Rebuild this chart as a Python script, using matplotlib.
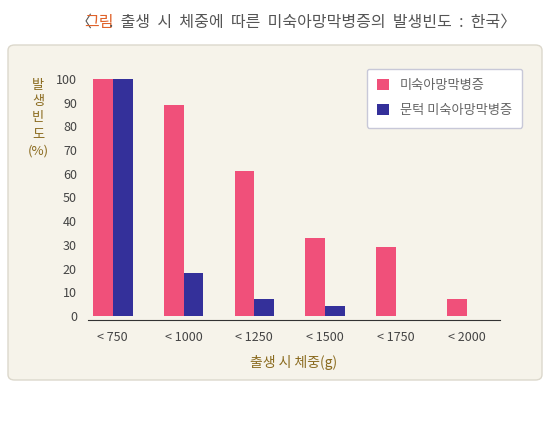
import matplotlib
matplotlib.use("Agg")
import matplotlib.pyplot as plt
from matplotlib.patches import FancyBboxPatch
import numpy as np

plt.rcParams['font.family'] = ['Noto Sans CJK KR', 'DejaVu Sans']

categories = ["< 750", "< 1000", "< 1250", "< 1500", "< 1750", "< 2000"]
rop = [100, 89, 61, 33, 29, 7]
threshold_rop = [100, 18, 7, 4, 0, 0]
yticks = [0, 10, 20, 30, 40, 50, 60, 70, 80, 90, 100]

W, H = 550, 444
fig = plt.figure(figsize=(5.5, 4.44), dpi=100)
fig.patch.set_facecolor("white")

def fx(x): return x / W
def fy(y): return 1 - y / H

bg = FancyBboxPatch((fx(8), fy(380)), fx(534), (335) / H,
                    boxstyle="round,pad=0,rounding_size=0.012",
                    transform=fig.transFigure, facecolor="#f6f3ea",
                    edgecolor="#dcd8cc", linewidth=1, zorder=-10)
fig.patches.append(bg)

fig.text(fx(76), fy(22), "〈", ha="left", va="center", fontsize=11.5, color="#555")
fig.text(fx(84), fy(22), "그림", ha="left", va="center", fontsize=11.5, color="#e0622a")
fig.text(fx(109), fy(22), ".  출생  시  체중에  따른  미숙아망막병증의  발생빈도  :  한국〉",
         ha="left", va="center", fontsize=11.5, color="#555")

ax = fig.add_axes([fx(88), fy(320), 412 / W, 241 / H])
ax.set_zorder(5)
ax.set_facecolor("none")
x = np.arange(len(categories))
w = 0.28
ax.bar(x - w / 2, rop, w, color="#f0507a", label="미숙아망막병증")
ax.bar(x + w / 2, threshold_rop, w, color="#34309a", label="문턱 미숙아망막병증")
ax.set_xlim(-0.35, 5.47)
ax.set_ylim(-1.7, 100)
ax.set_yticks(yticks)
ax.set_yticklabels([str(v) for v in yticks], fontsize=9, color="#444")
ax.set_xticks(x)
ax.set_xticklabels(categories, fontsize=9, color="#444")
ax.tick_params(length=0, pad=8)
for s in ["top", "right", "left"]:
    ax.spines[s].set_visible(False)
ax.spines["bottom"].set_color("#333")

leg = ax.legend(loc="upper right", bbox_to_anchor=(1.07, 1.07), fontsize=9.5,
                frameon=True, fancybox=True, handlelength=0.9, handleheight=0.9,
                labelspacing=0.9, borderpad=0.8, labelcolor="#666")
leg.get_frame().set_edgecolor("#c8c8d8")
leg.get_frame().set_facecolor("white")
leg.get_frame().set_alpha(1)

fig.text(fx(38), fy(118), "발\n생\n빈\n도\n(%)", ha="center", va="center",
         fontsize=9.5, color="#8a6a1e", linespacing=1.35)
fig.text(fx(294), fy(362), "출생 시 체중(g)", ha="center", va="center",
         fontsize=10, color="#8a6a1e")

fig.savefig("out.png", dpi=100)
